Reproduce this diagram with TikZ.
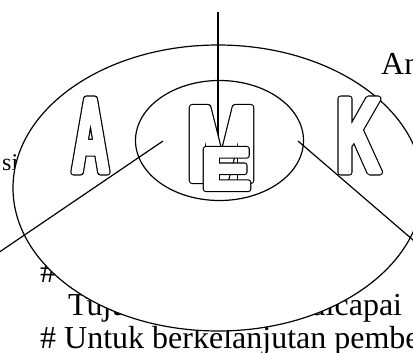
\documentclass[tikz,border=0pt]{standalone}
\usepackage{fontspec}
\setmainfont{Liberation Serif}
\newfontfamily\letterfont{Liberation Sans Bold}
\usetikzlibrary{positioning,shapes.geometric}
% outlined heavy capital: stretch, size, letter
\newcommand{\hollow}[3]{{\letterfont\addfontfeature{FakeStretch=#1}\fontsize{#2}{#2}\selectfont
  \rlap{\special{pdf:literal direct 0 g 0 G 1 j 2 Tr 6.4 w}#3}%
  \special{pdf:literal direct 1 g 1 G 4 w}#3%
  \special{pdf:literal direct 0 g 0 G 0 Tr 0 j}}}

\begin{document}
\begin{tikzpicture}[x=1pt, y=-1pt,
    ring/.style={draw, ellipse, line width=1.2pt, fill=white, inner sep=0pt},
    spoke/.style={line width=1.2pt},
    caption/.style={font=\fontsize{32}{38}\selectfont, inner sep=0pt, anchor=base west},
    glyph/.style={inner sep=0pt}
  ]
    \useasboundingbox (0,0) rectangle (413,353);

    % Texts behind the rings
    \node[caption] (an)     at (381,75)  {An};
    \node[caption, font=\fontsize{24}{28}\selectfont] (si) at (2,171) {si};
    \node[caption] (hash)   at (40,282)  {\#};
    \node[caption] (tujuan) at (68,315)  {Tujuan yang ingin dicapai};
    \node[caption] (untuk)  at (40,348)  {\# Untuk berkelanjutan pembe};

    % Rings
    \node[ring, minimum width=410pt, minimum height=286pt] (outer) at (218,188) {};
    \node[ring, minimum width=168pt, minimum height=120pt] (inner) at (219.5,140.5) {};

    % Spokes
    \coordinate (ntop) at (218,12);
    \coordinate (nend) at (218,142);
    \coordinate (wtop) at (-2,253);
    \coordinate (wend) at (163,141);
    \coordinate (etop) at (420,246);
    \coordinate (eend) at (298,141);
    \draw[spoke] (ntop) -- (nend);
    \draw[spoke] (wtop) -- (wend);
    \draw[spoke] (etop) -- (eend);

    % Letters
    \node[glyph] (la) at (90.5,135.5)  {\hollow{0.475}{107}{A}};
    \node[glyph] (lm) at (221.5,144)   {\hollow{0.79}{107}{M}};
    \node[glyph] (lk) at (358.5,135.5) {\hollow{0.57}{107}{K}};
    \node[glyph] (le) at (226,169)     {\hollow{1.3}{58}{E}};
  \end{tikzpicture}
\end{document}
